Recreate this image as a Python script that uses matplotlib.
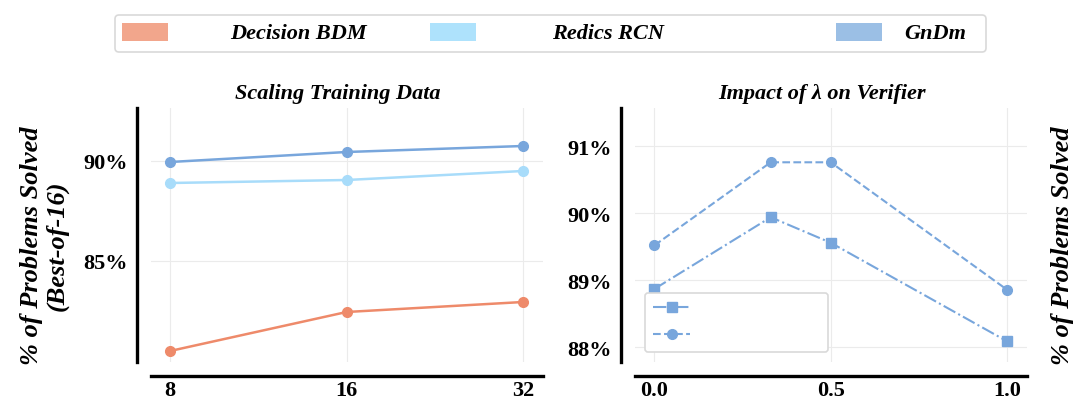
import matplotlib.pyplot as plt
from matplotlib.patches import FancyBboxPatch, Rectangle

# data
train_sizes = [8, 16, 32]
train_ticks = ["8", "16", "32"]
decision_bdm = [80.5, 82.45, 82.95]
redics_rcn = [88.9, 89.05, 89.5]
gndm = [89.95, 90.45, 90.75]

lambdas = [0.0, 0.33, 0.5, 1.0]
lambda_ticks = ["0.0", "0.5", "1.0"]
verifier_square = [88.87, 89.94, 89.56, 88.09]
verifier_circle = [89.52, 90.76, 90.76, 88.86]

series_names = ["Decision BDM", "Redics RCN", "GnDm"]
line_colors = ["#ee8a6a", "#a8dcfa", "#78a6dc"]
patch_colors = ["#f2a68c", "#aee2fc", "#9bbfe5"]

plt.rcParams["font.family"] = ["Liberation Serif", "DejaVu Serif"]
plt.rcParams["font.weight"] = "bold"

W, H = 1079, 406
fig = plt.figure(figsize=(W / 100, H / 100), dpi=100)


def px_axes(x0, y0, x1, y1):
    return fig.add_axes([x0 / W, 1 - y1 / H, (x1 - x0) / W, (y1 - y0) / H])


def style_axes(ax):
    for side in ["top", "right"]:
        ax.spines[side].set_visible(False)
    for side in ["left", "bottom"]:
        ax.spines[side].set_position(("outward", 10))
        ax.spines[side].set_linewidth(2.4)
        ax.spines[side].set_color("black")
    ax.tick_params(axis="both", length=0, labelsize=16)
    ax.tick_params(axis="y", pad=7)
    ax.tick_params(axis="x", pad=3)
    ax.grid(True, color="#ebebeb", linewidth=0.8)
    ax.set_axisbelow(True)
    for lab in ax.get_xticklabels() + ax.get_yticklabels():
        lab.set_fontweight("bold")


# left: scaling training data
ax1 = px_axes(151, 109, 543, 363)
for vals, c in zip([decision_bdm, redics_rcn, gndm], line_colors):
    ax1.plot(train_sizes, vals, color=c, linewidth=1.8, marker="o", markersize=7)
ax1.set_xscale("log", base=2)
ax1.set_xticks(train_sizes)
ax1.set_xticklabels(train_ticks)
ax1.minorticks_off()
ax1.set_xlim(2 ** 2.892, 2 ** 5.113)
ax1.set_ylim(79.95, 92.65)
ax1.set_yticks([85, 90])
ax1.set_yticklabels(["85%", "90%"])
style_axes(ax1)
ax1.set_title("Scaling Training Data", fontsize=16, fontweight="bold",
              fontstyle="italic", x=0.476, pad=7)

# right: impact of lambda
ax2 = px_axes(635, 109, 1027, 363)
l_sq, = ax2.plot(lambdas, verifier_square, color=line_colors[2], linewidth=1.5,
                 linestyle="-.", marker="s", markersize=7)
l_ci, = ax2.plot(lambdas, verifier_circle, color=line_colors[2], linewidth=1.5,
                 linestyle="--", marker="o", markersize=7)
ax2.set_xlim(-0.055, 1.057)
ax2.set_xticks([0.0, 0.5, 1.0])
ax2.set_xticklabels(lambda_ticks)
ax2.set_ylim(87.78, 91.57)
ax2.set_yticks([88, 89, 90, 91])
ax2.set_yticklabels(["88%", "89%", "90%", "91%"])
style_axes(ax2)
ax2.set_title("Impact of λ on Verifier", fontsize=16, fontweight="bold",
              fontstyle="italic", x=0.476, pad=7)
leg = ax2.legend([l_sq, l_ci], ["", ""], loc="lower left", fontsize=12,
                 handlelength=2.2, handletextpad=7.8, borderaxespad=0.6,
                 labelspacing=0.65, borderpad=0.5,
                 fancybox=True, framealpha=1, edgecolor="#d9d9d9")
leg.get_frame().set_linewidth(1.2)

# axis labels
fig.text(44.5 / W, 1 - 246 / H, "% of Problems Solved\n(Best-of-16)", rotation=90,
         ha="center", va="center", multialignment="center", fontsize=19,
         fontweight="bold", fontstyle="italic", linespacing=1.15)
fig.text(1062.5 / W, 1 - 246 / H, "% of Problems Solved", rotation=90,
         ha="center", va="center", fontsize=19, fontweight="bold",
         fontstyle="italic")

# shared legend across the top (box 114..987 x 15..54 px)
lax = px_axes(114, 15, 987, 54)
lax.set_xlim(0, 873)
lax.set_ylim(0, 39)
lax.axis("off")
lax.add_patch(FancyBboxPatch((1, 1), 871, 37, boxstyle="round,pad=0,rounding_size=4",
                             facecolor="white", edgecolor="#d9d9d9", linewidth=1.2))
handle_x = [8, 316, 722]
text_x = [116, 438, 790]
for name, c, hx, tx in zip(series_names, patch_colors, handle_x, text_x):
    lax.add_patch(Rectangle((hx, 12), 46, 18, facecolor=c, edgecolor="none"))
    lax.text(tx, 15, name, fontsize=16, fontweight="bold", fontstyle="italic",
             va="baseline", ha="left")

fig.savefig("out.png", dpi=100)
